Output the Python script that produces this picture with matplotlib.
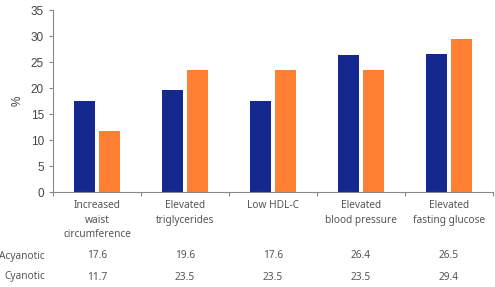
import numpy as np
from matplotlib import pyplot as plt
from matplotlib import transforms

categories = ["Increased\nwaist\ncircumference", "Elevated\ntriglycerides", "Low HDL-C",
              "Elevated\nblood pressure", "Elevated\nfasting glucose"]
acyanotic = [17.6, 19.6, 17.6, 26.4, 26.5]
cyanotic = [11.7, 23.5, 23.5, 23.5, 29.4]
row_names = ["Acyanotic", "Cyanotic"]

blue = "#14288f"
orange = "#ff8033"
grey = "#888888"
txt = "#555555"

fig = plt.figure(figsize=(4.95, 2.87), dpi=100)
ax = fig.add_axes([0.107, 0.331, 0.889, 0.634])

x = np.arange(len(categories))
w = 0.24
ax.bar(x - 0.145, acyanotic, w, color=blue)
ax.bar(x + 0.145, cyanotic, w, color=orange)

ax.set_xlim(-0.5, len(categories) - 0.5)
ax.set_ylim(0, 35)
ax.set_yticks(range(0, 36, 5))
ax.set_xticks(np.arange(-0.5, len(categories), 1.0))
ax.set_xticklabels([])
for s in ["top", "right"]:
    ax.spines[s].set_visible(False)
for s in ["left", "bottom"]:
    ax.spines[s].set_color(grey)
    ax.spines[s].set_linewidth(0.8)
ax.tick_params(colors=grey, length=3, width=0.8, labelsize=8.5, labelcolor="#444444")
for lab in ax.get_yticklabels():
    lab.set_fontfamily("Liberation Sans")
ax.set_ylabel("%", fontsize=8.5, color="#444444", labelpad=5, family="Liberation Sans")

trans = transforms.blended_transform_factory(ax.transData, fig.transFigure)
for i, c in enumerate(categories):
    ax.text(x[i], 1 - 200 / 287, c, transform=trans, ha="center", va="top",
            fontsize=7.3, color=txt, family="Noto Sans", linespacing=1.45)

rows = [acyanotic, cyanotic]
row_y = [1 - 256 / 287, 1 - 277 / 287]
for r, name in enumerate(row_names):
    fig.text(45 / 495, row_y[r], name, ha="right", va="center",
             fontsize=7.3, color=txt, family="Noto Sans")
    for i, v in enumerate(rows[r]):
        ax.text(x[i], row_y[r], f"{v:.1f}", transform=trans, ha="center", va="center",
                fontsize=7.3, color=txt, family="Noto Sans")

fig.savefig("out.png", dpi=100)
